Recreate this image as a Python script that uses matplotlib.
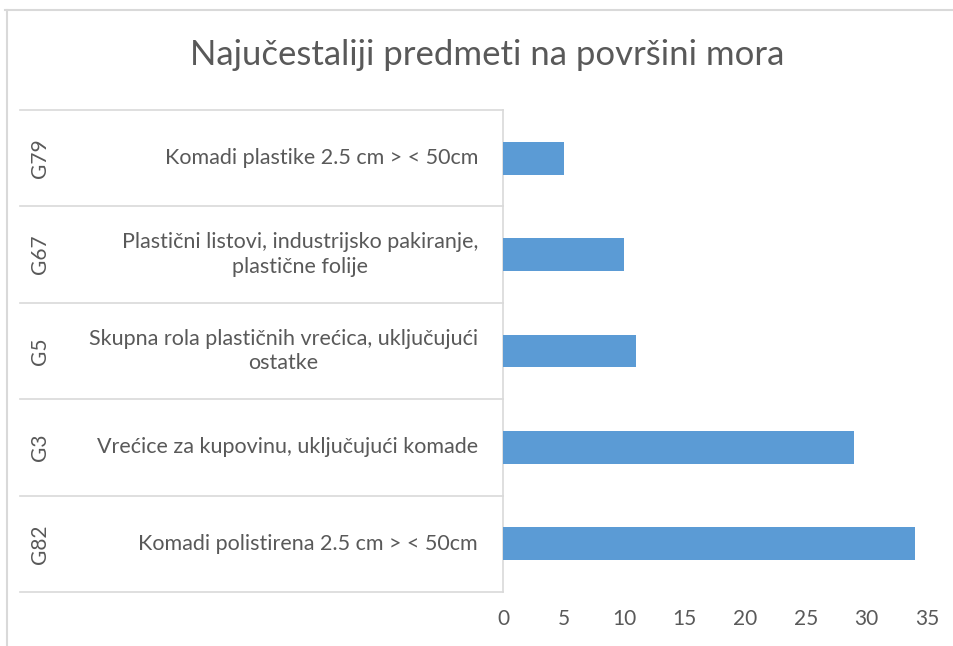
import matplotlib
matplotlib.use("Agg")
import matplotlib.pyplot as plt
from matplotlib.lines import Line2D

# data, bottom to top as drawn
codes = ["G82", "G3", "G5", "G67", "G79"]
labels = [
    "Komadi polistirena 2.5 cm > < 50cm",
    "Vrećice za kupovinu, uključujući komade",
    "Skupna rola plastičnih vrećica, uključujući\nostatke",
    "Plastični listovi, industrijsko pakiranje,\nplastične folije",
    "Komadi plastike 2.5 cm > < 50cm",
]
counts = [34, 29, 11, 10, 5]
xticks = [0, 5, 10, 15, 20, 25, 30, 35]

plt.rcParams["font.family"] = ["Lato", "DejaVu Sans"]
grey = "#595959"
line_grey = "#d9d9d9"

fig = plt.figure(figsize=(9.54, 6.46), dpi=100)
W, H = 954, 646
# plot area in pixels: x 503..927, y 110..592
ax = fig.add_axes([503 / W, 1 - 592 / H, (927 - 503) / W, (592 - 110) / H])

pos = list(range(len(codes)))
ax.barh(pos, counts, height=0.34, color="#5b9bd5", zorder=3)
ax.set_xlim(0, 35)
ax.set_ylim(-0.5, len(codes) - 0.5)
ax.set_xticks(xticks)
ax.set_xticklabels([str(t) for t in xticks], fontsize=15, color=grey)
ax.tick_params(axis="x", length=0, pad=12)
ax.set_yticks([])
for s in ["top", "right", "bottom"]:
    ax.spines[s].set_visible(False)
ax.spines["left"].set_color(line_grey)
ax.spines["left"].set_linewidth(1.2)

# two-level category axis on the left
tr = ax.get_yaxis_transform()
x_line0 = (20 - 503) / (927 - 503)
x_lab = (478 - 503) / (927 - 503)
x_code = (40 - 503) / (927 - 503)
for k in range(len(codes) + 1):
    ax.plot([x_line0, 0], [k - 0.5, k - 0.5], transform=tr, color=line_grey,
            lw=1.2, clip_on=False)
for p, c, lab in zip(pos, codes, labels):
    ax.text(x_lab, p, lab, transform=tr, ha="right", va="center",
            multialignment="center", fontsize=15.5, color=grey, linespacing=1.3)
    ax.text(x_code, p, c, transform=tr, ha="center", va="center",
            rotation=90, fontsize=15, color=grey)

fig.text(487 / W, 1 - 55 / H, "Najučestaliji predmeti na površini mora",
         ha="center", va="center", fontsize=25, color=grey)

# chart border
fig.add_artist(Line2D([5 / W, 1], [1 - 10 / H, 1 - 10 / H], color=line_grey, lw=1.5))
fig.add_artist(Line2D([7 / W, 7 / W], [0, 1 - 10 / H], color=line_grey, lw=1.5))

fig.savefig("out.png", dpi=100)
